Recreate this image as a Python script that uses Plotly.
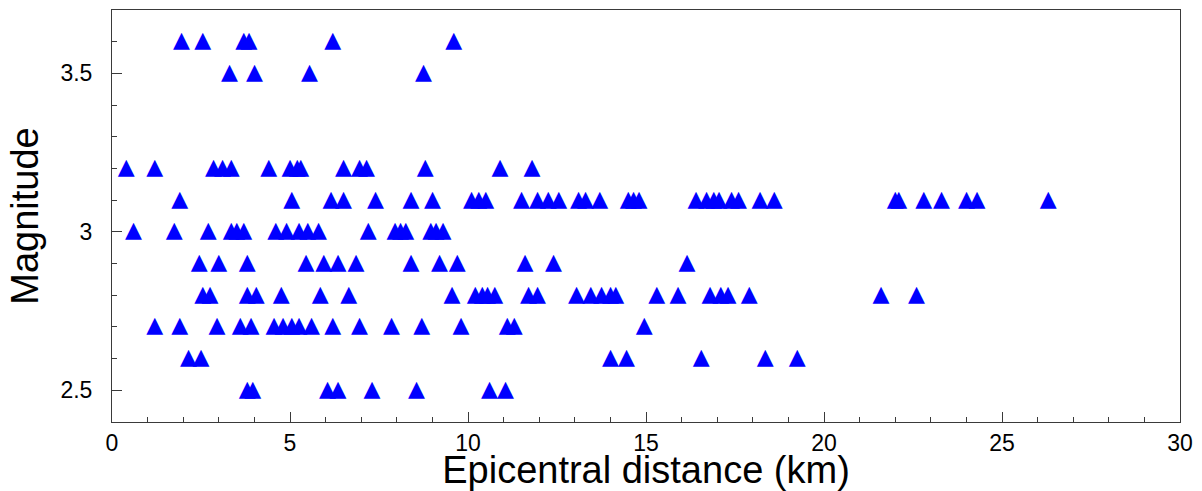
import plotly.graph_objects as go

# Epicentral distance (km) of each event, grouped by magnitude
dist_m36 = [1.95, 2.55, 3.7, 3.85, 6.2, 9.6]
dist_m35 = [3.3, 4.0, 5.55, 8.75]
dist_m32 = [0.4, 1.2, 2.85, 3.1, 3.35, 4.4, 5.0, 5.2, 5.3, 6.5, 6.95, 7.15, 8.8, 10.9, 11.8]
dist_m31 = [1.9, 5.05, 6.15, 6.5, 7.4, 8.4, 9.0, 10.1, 10.3, 10.5, 11.5, 11.95, 12.25,
            12.55, 13.1, 13.3, 13.7, 14.5, 14.65, 14.8, 16.4, 16.7, 16.9, 17.05, 17.4,
            17.6, 18.2, 18.6, 22.0, 22.1, 22.8, 23.3, 24.0, 24.3, 26.3]
dist_m30 = [0.6, 1.75, 2.7, 3.35, 3.5, 3.7, 4.6, 4.9, 5.25, 5.5, 5.8, 7.2, 7.95, 8.1,
            8.25, 8.95, 9.1, 9.3]
dist_m29 = [2.45, 3.0, 3.8, 5.45, 5.95, 6.35, 6.85, 8.4, 9.2, 9.7, 11.6, 12.4, 16.15]
dist_m28 = [2.55, 2.75, 3.8, 4.05, 4.75, 5.85, 6.65, 9.55, 10.2, 10.4, 10.55, 10.75,
            11.7, 11.95, 13.05, 13.45, 13.75, 14.0, 14.15, 15.3, 15.9, 16.8, 17.1, 17.3,
            17.9, 21.6, 22.6]
dist_m27 = [1.2, 1.9, 2.95, 3.6, 3.9, 4.55, 4.8, 5.05, 5.25, 5.6, 6.2, 6.95, 7.85, 8.7,
            9.8, 11.1, 11.3, 14.95]
dist_m26 = [2.15, 2.5, 14.0, 14.45, 16.55, 18.35, 19.25]
dist_m25 = [3.8, 3.95, 6.05, 6.35, 7.3, 8.55, 10.6, 11.05]

magnitudes = [3.6, 3.5, 3.2, 3.1, 3.0, 2.9, 2.8, 2.7, 2.6, 2.5]
distances = [dist_m36, dist_m35, dist_m32, dist_m31, dist_m30,
             dist_m29, dist_m28, dist_m27, dist_m26, dist_m25]

x_vals, y_vals = [], []
for mag, d in zip(magnitudes, distances):
    x_vals += d
    y_vals += [mag] * len(d)

X_RANGE = [0, 30]
Y_RANGE = [2.4, 3.7]

W, H = 1202, 491
M_L, M_R, M_T, M_B = 112, 22, 10, 69

FONT = "Liberation Sans, Arial, sans-serif"
axis_line = "#3a3a3a"

fig = go.Figure()
# each event drawn as a solid up-pointing triangle glyph centred on its point
fig.add_trace(go.Scatter(
    x=x_vals, y=y_vals, mode="text",
    text=["\u25B2"] * len(x_vals), textposition="middle center",
    textfont=dict(family="DejaVu Sans", size=22, color="#0000FF"),
    showlegend=False, hoverinfo="x+y",
))

fig.update_layout(
    width=W, height=H,
    margin=dict(l=M_L, r=M_R, t=M_T, b=M_B, autoexpand=False),
    paper_bgcolor="white", plot_bgcolor="white",
    font=dict(family=FONT, color="black"),
    xaxis=dict(
        range=X_RANGE, dtick=5, tick0=0,
        showgrid=False, zeroline=False,
        showline=True, linecolor=axis_line, linewidth=1, mirror=True,
        ticks="inside", ticklen=10, tickcolor=axis_line, tickwidth=1,
        minor=dict(dtick=1, ticks="inside", ticklen=5, tickcolor=axis_line, showgrid=False),
        tickfont=dict(size=23, family=FONT, color="black"),
        ticklabelstandoff=0,
        title=dict(text="Epicentral distance (km)", font=dict(size=38, family=FONT, color="black"),
                   standoff=0),
        automargin=False,
    ),
    yaxis=dict(
        range=Y_RANGE, dtick=0.5, tick0=2.5,
        showgrid=False, zeroline=False,
        showline=True, linecolor=axis_line, linewidth=1, mirror=True,
        ticks="inside", ticklen=10, tickcolor=axis_line, tickwidth=1,
        minor=dict(dtick=0.1, tick0=2.5, ticks="inside", ticklen=5, tickcolor=axis_line,
                   showgrid=False),
        tickfont=dict(size=23, family=FONT, color="black"),
        ticklabelstandoff=14,
        title=dict(text="Magnitude", font=dict(size=38, family=FONT, color="black"),
                   standoff=10),
        automargin=False,
    ),
)

fig.write_html("out.html")
